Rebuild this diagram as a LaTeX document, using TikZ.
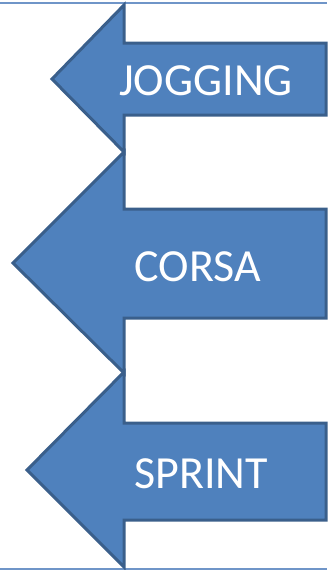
\documentclass[tikz,border=0pt]{standalone}
\usepackage{fontspec}
\setmainfont{Carlito}
\definecolor{arrowfill}{HTML}{4F81BD}
\definecolor{arrowline}{HTML}{3A5F8B}
\definecolor{rulecol}{HTML}{6F95C8}
\tikzset{
  bigarrow/.style={fill=arrowfill, draw=arrowline, line width=3pt, line join=miter},
  label/.style={text=white, anchor=base, inner sep=0pt, font=\fontsize{46}{46}\selectfont},
  rulebar/.style={draw=rulecol, line width=2pt}
}
\begin{document}
\begin{tikzpicture}[x=1pt, y=-1pt]
        \useasboundingbox (0,0) rectangle (327,570);
        \draw[rulebar] (0,3) -- (327,3);
        \draw[rulebar] (0,569) -- (327,569);
        \draw[bigarrow] (326,43) -- (124,43) -- (124,5) -- (52,79) -- (124,152) -- (124,115) -- (326,115) -- cycle;
        \draw[bigarrow] (326,209) -- (124,209) -- (124,152) -- (13,263) -- (124,373) -- (124,318) -- (326,318) -- cycle;
        \draw[bigarrow] (326,423) -- (124,423) -- (124,372) -- (27,470) -- (124,567) -- (124,520) -- (326,520) -- cycle;
        \node[label] (jogging) at (206,95) {JOGGING};
        \node[label] (corsa) at (198,281) {CORSA};
        \node[label] (sprint) at (201,488) {SPRINT};
    \end{tikzpicture}
\end{document}
